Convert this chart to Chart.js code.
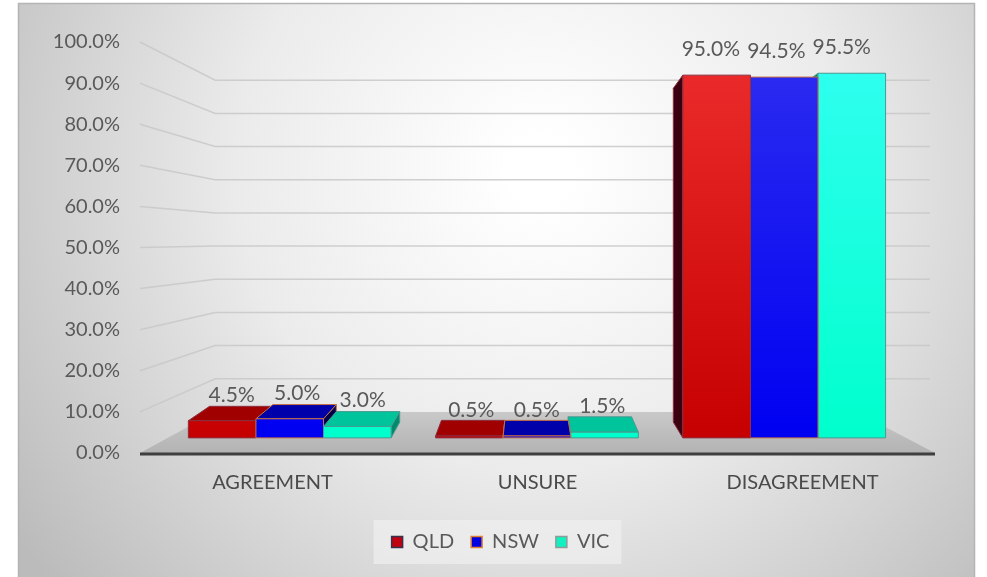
<!DOCTYPE html>
<html>
<head>
<meta charset="utf-8">
<script src="https://cdn.jsdelivr.net/npm/chart.js@4.4.1/dist/chart.umd.min.js"></script>
<style>
  html, body { margin: 0; padding: 0; background: #fff; }
  #wrap { width: 987px; height: 577px; }
</style>
</head>
<body>
<div id="wrap"><canvas id="chart"></canvas></div>
<script>
// data
const categories = ['AGREEMENT', 'UNSURE', 'DISAGREEMENT'];
const seriesNames = ['QLD', 'NSW', 'VIC'];
const qldValues = [4.5, 0.5, 95.0];
const nswValues = [5.0, 0.5, 94.5];
const vicValues = [3.0, 1.5, 95.5];
const yMin = 0, yMax = 100, yStep = 10;

// colours for the fake 3D faces
const looks = [
    { frontTop: '#ec2c2c', frontBottom: '#c60000', top: '#a00000', side: '#3a0010', edge: '#8a3040', key: '#c00010', keyEdge: '#38304c' },
    { frontTop: '#2c2cf0', frontBottom: '#0000f2', top: '#0000aa', side: '#00004a', edge: '#c87040', key: '#0000e0', keyEdge: '#e08030' },
    { frontTop: '#30fff0', frontBottom: '#00ffcc', top: '#00c49c', side: '#008c6c', edge: '#4a9a90', key: '#10f0c0', keyEdge: '#8c9c98' }
];

const FONT = 'Lato, "Open Sans", sans-serif';
const WALL = 0.807;                        // depth of the back wall
const BAR_FRONT = { sx: 0.933, sy: 0.929 };
const BAR_BACK = { sx: 0.875, sy: 0.855 };
const LABEL_LIFT = 6.8;                    // label sits this many % above the bar
const LEGEND_SHIFT = 23;                   // legend sits a bit right of page centre

function vanish(chart) {
    const ca = chart.chartArea;
    return { x: ca.left + 0.49 * ca.width, y: ca.top + 0.482 * ca.height };
}
function project(v, x, y, sx, sy) {
    return { x: v.x + (x - v.x) * sx, y: v.y + (y - v.y) * sy };
}
function poly(ctx, pts, fill, stroke) {
    ctx.beginPath();
    ctx.moveTo(pts[0].x, pts[0].y);
    for (let i = 1; i < pts.length; i++) ctx.lineTo(pts[i].x, pts[i].y);
    ctx.closePath();
    ctx.fillStyle = fill;
    ctx.fill();
    if (stroke) {
        ctx.strokeStyle = stroke;
        ctx.lineWidth = 1;
        ctx.stroke();
    }
}

const scene = {
    id: 'scene',
    afterLayout(chart) {
        const lg = chart.legend;
        lg.left += LEGEND_SHIFT;
        lg.right += LEGEND_SHIFT;
        (lg.legendHitBoxes || []).forEach(b => { b.left += LEGEND_SHIFT; });
    },
    beforeDraw(chart) {
        const ctx = chart.ctx;
        const ca = chart.chartArea;
        const y = chart.scales.y;
        const v = vanish(chart);
        ctx.save();
        // page + chart box
        ctx.fillStyle = '#ffffff';
        ctx.fillRect(0, 0, chart.width, chart.height);
        const g = ctx.createRadialGradient(540, 170, 30, 540, 170, 640);
        g.addColorStop(0, '#ffffff');
        g.addColorStop(0.45, '#ebebeb');
        g.addColorStop(1, '#bbbbbb');
        ctx.fillStyle = g;
        ctx.fillRect(18, 3, 956, 574);
        ctx.strokeStyle = '#b4b4b4';
        ctx.lineWidth = 1.5;
        ctx.strokeRect(18.5, 3.5, 956, 580);

        // legend panel
        const hb = chart.legend.legendHitBoxes;
        if (hb && hb.length) {
            const x0 = Math.min(...hb.map(b => b.left)) - 18;
            const x1 = Math.max(...hb.map(b => b.left + b.width)) + 12;
            const y0 = Math.min(...hb.map(b => b.top)) - 12;
            const y1 = Math.max(...hb.map(b => b.top + b.height)) + 12;
            ctx.fillStyle = 'rgba(240,240,240,0.7)';
            ctx.fillRect(x0, y0, x1 - x0, y1 - y0);
        }

        // floor
        const yZero = y.getPixelForValue(0);
        const fl = { x: ca.left, y: yZero };
        const fr = { x: ca.right, y: yZero };
        const bl = project(v, ca.left, yZero, WALL, WALL);
        const br = project(v, ca.right, yZero, WALL, WALL);
        const fg = ctx.createLinearGradient(0, bl.y, 0, yZero);
        fg.addColorStop(0, '#c9c9c9');
        fg.addColorStop(1, '#b3b3b3');
        poly(ctx, [fl, fr, br, bl], fg);

        // grid: side wall slant + back wall line
        const backRight = ca.right - 5;
        ctx.strokeStyle = 'rgba(200,200,200,0.85)';
        ctx.lineWidth = 1.5;
        for (let t = yMin + yStep; t <= yMax; t += yStep) {
            const py = y.getPixelForValue(t);
            const b = project(v, ca.left, py, WALL, WALL);
            ctx.beginPath();
            ctx.moveTo(ca.left, py);
            ctx.lineTo(b.x, b.y);
            ctx.lineTo(backRight, b.y);
            ctx.stroke();
        }

        // axis line
        ctx.strokeStyle = '#3f3f3f';
        ctx.lineWidth = 3;
        ctx.beginPath();
        ctx.moveTo(ca.left, yZero + 1);
        ctx.lineTo(ca.right, yZero + 1);
        ctx.stroke();
        ctx.restore();
    },
    afterDatasetsDraw(chart) {
        const ctx = chart.ctx;
        const ca = chart.chartArea;
        const y = chart.scales.y;
        const v = vanish(chart);
        const bars = [];
        chart.data.datasets.forEach((ds, i) => {
            chart.getDatasetMeta(i).data.forEach((el, j) => {
                const p = el.getProps(['x', 'y', 'base', 'width'], true);
                bars.push({ i, j, value: ds.data[j], ...p });
            });
        });
        // far-from-centre bars first so the near ones cover their sides
        bars.sort((a, b) => Math.abs(b.x - v.x) - Math.abs(a.x - v.x));

        ctx.save();
        const gTop = project(v, 0, ca.top, 1, BAR_FRONT.sy).y;
        const gBot = project(v, 0, y.getPixelForValue(0), 1, BAR_FRONT.sy).y;
        bars.forEach(b => {
            const L = looks[b.i];
            const xl = b.x - b.width / 2, xr = b.x + b.width / 2;
            const F = BAR_FRONT, B = BAR_BACK;
            const ftl = project(v, xl, b.y, F.sx, F.sy), ftr = project(v, xr, b.y, F.sx, F.sy);
            const fbl = project(v, xl, b.base, F.sx, F.sy), fbr = project(v, xr, b.base, F.sx, F.sy);
            const btl = project(v, xl, b.y, B.sx, B.sy), btr = project(v, xr, b.y, B.sx, B.sy);
            const bbl = project(v, xl, b.base, B.sx, B.sy), bbr = project(v, xr, b.base, B.sx, B.sy);
            if (b.x < v.x) poly(ctx, [ftr, fbr, bbr, btr], L.side, L.edge);
            else poly(ctx, [ftl, fbl, bbl, btl], L.side, L.edge);
            if (ftl.y > v.y) poly(ctx, [ftl, ftr, btr, btl], L.top, L.edge);
            const fg = ctx.createLinearGradient(0, gTop, 0, gBot);
            fg.addColorStop(0, L.frontTop);
            fg.addColorStop(1, L.frontBottom);
            poly(ctx, [ftl, ftr, fbr, fbl], fg, L.edge);
        });

        // value labels
        ctx.font = '21px ' + FONT;
        ctx.fillStyle = '#595959';
        ctx.textAlign = 'center';
        ctx.textBaseline = 'middle';
        bars.forEach(b => {
            const f = project(v, b.x, b.y, BAR_FRONT.sx, BAR_FRONT.sy);
            const k = project(v, b.x, b.y, BAR_BACK.sx, BAR_BACK.sy);
            const ly = project(v, b.x, y.getPixelForValue(b.value + LABEL_LIFT), BAR_FRONT.sx, BAR_FRONT.sy).y;
            ctx.fillText(b.value.toFixed(1) + '%', (f.x + k.x) / 2, ly);
        });
        ctx.restore();
    }
};

const seriesValues = [qldValues, nswValues, vicValues];

new Chart(document.getElementById('chart'), {
    type: 'bar',
    data: {
        labels: categories,
        datasets: seriesNames.map((name, i) => ({
            label: name,
            data: seriesValues[i],
            backgroundColor: 'rgba(0,0,0,0)',
            borderWidth: 0,
            categoryPercentage: 0.82,
            barPercentage: 1.0
        }))
    },
    options: {
        responsive: true,
        maintainAspectRatio: false,
        animation: false,
        devicePixelRatio: 1,
        layout: { padding: { top: 42, left: 20, right: 52, bottom: 15 } },
        scales: {
            x: {
                grid: { display: false, drawTicks: false },
                border: { display: false },
                ticks: { font: { family: FONT, size: 20 }, color: '#4a4a4a', padding: 18 },
                afterFit: s => { s.height = 62; }
            },
            y: {
                min: yMin,
                max: yMax,
                grid: { display: false, drawTicks: false },
                border: { display: false },
                ticks: {
                    stepSize: yStep,
                    font: { family: FONT, size: 20 },
                    color: '#595959',
                    padding: 20,
                    callback: val => val.toFixed(1) + '%'
                },
                afterFit: s => { s.width = 120; }
            }
        },
        plugins: {
            tooltip: { enabled: false },
            legend: {
                position: 'bottom',
                labels: {
                    font: { family: FONT, size: 20 },
                    color: '#595959',
                    boxWidth: 11,
                    boxHeight: 11,
                    padding: 17,
                    generateLabels: chart => chart.data.datasets.map((ds, i) => ({
                        text: ds.label,
                        fillStyle: looks[i].key,
                        strokeStyle: looks[i].keyEdge,
                        lineWidth: 1.5,
                        fontColor: '#595959',
                        hidden: false,
                        datasetIndex: i
                    }))
                }
            }
        }
    },
    plugins: [scene]
});
</script>
</body>
</html>
